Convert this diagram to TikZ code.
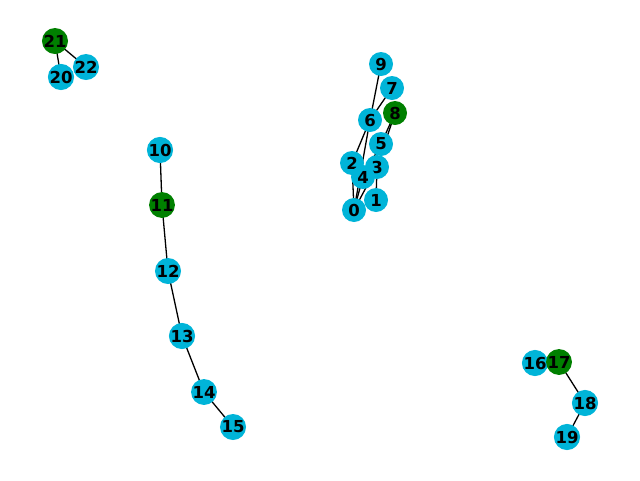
\documentclass[tikz,border=0pt]{standalone}
\usepackage{fontspec}
\setmainfont{DejaVu Sans}
\definecolor{nodecyan}{RGB}{0,180,216}
\definecolor{nodegreen}{RGB}{0,128,0}
\pgfdeclarelayer{bg}
\pgfsetlayers{bg,main}
\begin{document}
\begin{tikzpicture}[x=1pt,y=-1pt,
  vtx/.style={circle,fill=nodecyan,minimum size=24pt,inner sep=0pt,font=\fontsize{16.5}{16.5}\selectfont\bfseries},
  gvtx/.style={vtx,fill=nodegreen},
  edge/.style={draw=black,line width=1.3pt}]
\useasboundingbox (0,0) rectangle (640,480);
% nodes
\node[vtx] (n9) at (381,64) {9};
\node[vtx] (n7) at (392,88) {7};
\node[gvtx] (n8) at (395,113) {8};
\node[vtx] (n6) at (370,120) {6};
\node[vtx] (n5) at (381,144) {5};
\node[vtx] (n2) at (352,163) {2};
\node[vtx] (n3) at (377,167) {3};
\node[vtx] (n4) at (363,177) {4};
\node[vtx] (n1) at (376,200) {1};
\node[vtx] (n0) at (354,210) {0};
\node[vtx] (n10) at (160,150) {10};
\node[gvtx] (n11) at (162,205) {11};
\node[vtx] (n12) at (168,271) {12};
\node[vtx] (n13) at (182,336) {13};
\node[vtx] (n14) at (204,392) {14};
\node[vtx] (n15) at (233,427) {15};
\node[vtx] (n16) at (535,363) {16};
\node[gvtx] (n17) at (559,362) {17};
\node[vtx] (n18) at (585,403) {18};
\node[vtx] (n19) at (567,437) {19};
\node[vtx] (n20) at (61,77) {20};
\node[gvtx] (n21) at (55,41) {21};
\node[vtx] (n22) at (86,67) {22};
% edges behind
\begin{pgfonlayer}{bg}
\draw[edge] (n9.center) -- (n6.center);
\draw[edge] (n7.center) -- (n6.center);
\draw[edge] (n8.center) -- (n5.center);
\draw[edge] (n8.center) -- (n3.center);
\draw[edge] (n6.center) -- (n0.center);
\draw[edge] (n6.center) -- (n2.center);
\draw[edge] (n5.center) -- (n4.center);
\draw[edge] (n3.center) -- (n1.center);
\draw[edge] (n0.center) -- (n2.center);
\draw[edge] (n0.center) -- (n4.center);
\draw[edge] (n0.center) -- (n3.center);
\draw[edge] (n10.center) -- (n11.center);
\draw[edge] (n11.center) -- (n12.center);
\draw[edge] (n12.center) -- (n13.center);
\draw[edge] (n13.center) -- (n14.center);
\draw[edge] (n14.center) -- (n15.center);
\draw[edge] (n17.center) -- (n18.center);
\draw[edge] (n18.center) -- (n19.center);
\draw[edge] (n21.center) -- (n20.center);
\draw[edge] (n21.center) -- (n22.center);
\end{pgfonlayer}
\end{tikzpicture}
\end{document}
